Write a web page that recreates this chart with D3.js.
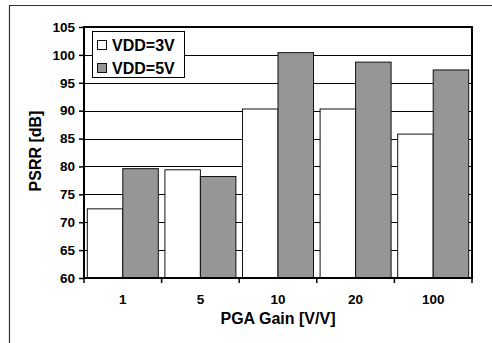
<!DOCTYPE html>
<html><head><meta charset="utf-8">
<script src="https://cdn.jsdelivr.net/npm/d3@7"></script>
<style>body{margin:0;background:#fff}svg{display:block}text{font-family:Arial,"Liberation Sans",sans-serif;font-weight:bold;fill:#000}</style>
</head><body><svg id="c" width="492" height="343"></svg>
<script>
const categories = ["1","5","10","20","100"];
const seriesNames = ["VDD=3V","VDD=5V"];
const vdd3 = [72.4, 79.4, 90.3, 90.3, 85.8];
const vdd5 = [79.6, 78.2, 100.4, 98.7, 97.3];
const yTicks = [60,65,70,75,80,85,90,95,100,105];
const colors = ["#ffffff","#969696"];

const svg = d3.select("#c");
const L=84, R=472, T=27, B=278;
// outer frame
svg.append("path").attr("d","M9.5,343V5.5H492").attr("fill","none").attr("stroke","#333").attr("stroke-width",1.2);

const x0 = d3.scaleBand().domain(categories).range([L,R]).padding(0);
const x1 = d3.scaleBand().domain(seriesNames).range([0,x0.bandwidth()]).paddingInner(0).paddingOuter(0.093);
const y = d3.scaleLinear().domain([60,105]).range([B,T]);

// gridlines
svg.append("g").selectAll("line").data(yTicks.filter(v=>v>60&&v<105)).join("line")
  .attr("x1",L).attr("x2",R).attr("y1",d=>Math.round(y(d))+0.5).attr("y2",d=>Math.round(y(d))+0.5)
  .attr("stroke","#000").attr("stroke-width",1);

// bars
const data = categories.map((c,i)=>({c, vals:[vdd3[i],vdd5[i]]}));
const g = svg.append("g").selectAll("g").data(data).join("g").attr("transform",d=>`translate(${x0(d.c)},0)`);
g.selectAll("rect").data(d=>d.vals.map((v,j)=>({v,s:seriesNames[j],j}))).join("rect")
  .attr("x",d=>x1(d.s)).attr("width",x1.bandwidth())
  .attr("y",d=>y(d.v)).attr("height",d=>B-y(d.v))
  .attr("fill",d=>colors[d.j]).attr("stroke","#111").attr("stroke-width",1);

// plot border
svg.append("rect").attr("x",L).attr("y",T).attr("width",R-L).attr("height",B-T)
  .attr("fill","none").attr("stroke","#000").attr("stroke-width",2);

// y axis
const ya = d3.axisLeft(y).tickValues(yTicks).tickSize(5).tickSizeOuter(0).tickPadding(4);
const yg = svg.append("g").attr("transform",`translate(${L},0)`).call(ya);
yg.select(".domain").remove();
yg.selectAll("line").attr("stroke","#000").attr("stroke-width",1.5);
yg.selectAll("text").attr("font-size","13.5px").attr("font-weight","bold").attr("font-family","Arial, 'Liberation Sans', sans-serif").attr("fill","#000");

// x axis
const xa = d3.axisBottom(x0).tickSize(0).tickPadding(16);
const xg = svg.append("g").attr("transform",`translate(0,${B})`).call(xa);
xg.select(".domain").remove();
xg.selectAll("text").attr("font-size","13.5px").attr("font-weight","bold").attr("font-family","Arial, 'Liberation Sans', sans-serif").attr("fill","#000");
// x boundary ticks
const bounds = categories.map(c=>x0(c)).concat([R]);
svg.append("g").selectAll("line").data(bounds).join("line")
  .attr("x1",d=>d).attr("x2",d=>d).attr("y1",B).attr("y2",B+5).attr("stroke","#000").attr("stroke-width",1.5);

// axis titles
svg.append("text").attr("x",278).attr("y",324).attr("text-anchor","middle").attr("font-size","16px").text("PGA Gain [V/V]");
svg.append("text").attr("transform","translate(41,151) rotate(-90)").attr("text-anchor","middle").attr("font-size","16px").text("PSRR [dB]");

// legend
const lg = svg.append("g");
lg.append("rect").attr("x",92.5).attr("y",31.5).attr("width",92).attr("height",46).attr("fill","#fff").attr("stroke","#000").attr("stroke-width",1);
seriesNames.forEach((s,i)=>{
  const cy = 45 + i*23;
  lg.append("rect").attr("x",97.5).attr("y",cy-4.5).attr("width",9).attr("height",9).attr("fill",colors[i]).attr("stroke","#111");
  lg.append("text").attr("x",112).attr("y",cy+5.8).attr("font-size","16px").text(s);
});
</script></body></html>
